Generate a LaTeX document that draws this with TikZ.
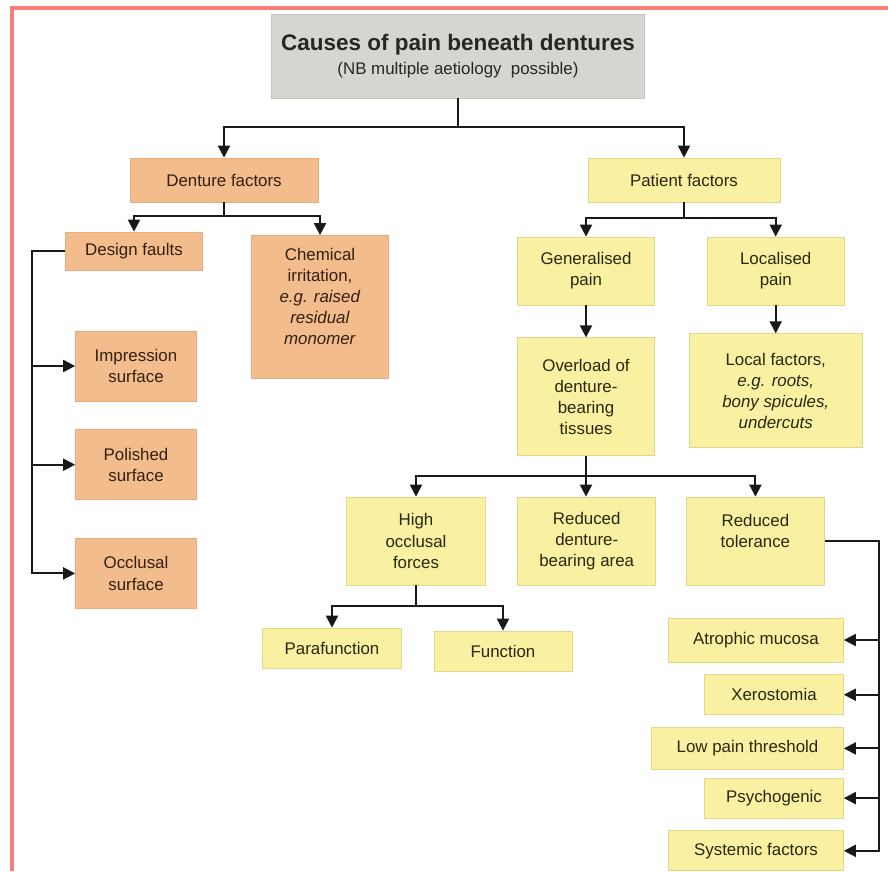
\documentclass[tikz,border=0pt]{standalone}
\usepackage{fontspec}
\setmainfont{Liberation Sans}
\usetikzlibrary{positioning, arrows.meta}
\usepackage{xcolor}
\definecolor{myorange}{RGB}{242,188,141}
\definecolor{myorangeline}{RGB}{230,174,126}
\definecolor{myyellow}{RGB}{250,240,162}
\definecolor{myyellowline}{RGB}{226,216,140}
\definecolor{mygrey}{RGB}{214,214,208}
\definecolor{mygreyline}{RGB}{198,198,192}
\definecolor{myred}{RGB}{243,128,122}
\definecolor{mybrown}{RGB}{52,32,16}
\definecolor{myolive}{RGB}{40,40,14}

\begin{document}
\begin{tikzpicture}[x=0.025cm, y=-0.025cm, >={Triangle[length=8.5pt,width=8.5pt]},
  box/.style={rectangle, line width=0.5pt, align=center, inner sep=2pt,
              font=\fontsize{12}{15}\selectfont},
  size/.style 2 args={minimum width=#1*0.025cm, minimum height=#2*0.025cm},
  denture/.style={box, fill=myorange, draw=myorangeline, text=mybrown},
  patient/.style={box, fill=myyellow, draw=myyellowline, text=myolive},
  link/.style={->, line width=1.4pt, draw=black!90}]
  \useasboundingbox (0,0) rectangle (888,871);
  \draw[myred, line width=2.2pt] (12,871) -- (12,8) -- (888,8);

  \node[box, fill=mygrey, draw=mygreyline, text=black!85, size={373}{84}] (title) at (458,56)
    {{\bfseries\fontsize{16}{19}\selectfont Causes of pain beneath dentures}\\[1.5pt]
     (NB multiple aetiology\ \ possible)};

  % denture side
  \node[denture, size={188}{44}] (dent)   at (224,180) {Denture factors};
  \node[denture, size={137}{38}] (design) at (134,251) {Design faults};
  \node[denture, size={137}{143}] (chem)  at (320,307)
    {Chemical\\irritation,\\\textit{e.g. raised}\\\textit{residual}\\\textit{monomer}\\ \mbox{}};
  \node[denture, size={121}{70}] (impr)   at (136,366) {Impression\\surface};
  \node[denture, size={121}{70}, below=0.7cm of impr] (pol)  {Polished\\surface};
  \node[denture, size={121}{70}, below=0.95cm of pol]  (occl) {Occlusal\\surface};

  % patient side
  \node[patient, size={192}{44}] (pat) at (684,180) {Patient factors};
  \node[patient, size={137}{68}] (gen) at (586,271) {Generalised\\pain};
  \node[patient, size={137}{68}, right=1.3cm of gen] (loc) {Localised\\pain};
  \node[patient, size={137}{118}, below=0.8cm of gen] (over)
    {Overload of\\denture-\\bearing\\tissues};
  \node[patient, size={173}{114}, below=0.7cm of loc] (locf)
    {Local factors,\\\textit{e.g. roots,}\\\textit{bony spicules,}\\\textit{undercuts}};

  \node[patient, size={139}{88}] (high) at (416,541) {High\\occlusal\\forces};
  \node[patient, size={138}{88}, right=0.7875cm of high] (redarea)
    {Reduced\\denture-\\bearing area};
  \node[patient, size={138}{88}, right=0.75cm of redarea] (redtol)
    {Reduced\\tolerance\\ \mbox{}};

  \node[patient, size={139}{40}] (para) at (332,648) {Parafunction};
  \node[patient, size={138}{40}] (func) at (503,651) {Function};

  \node[patient, size={175}{44}] (atro) at (756,640) {Atrophic mucosa};
  \node[patient, size={139}{40}, below=0.3cm of atro.south east, anchor=north east] (xero) {Xerostomia};
  \node[patient, size={192}{42}, below=0.3cm of xero.south east, anchor=north east] (lowp) {Low pain threshold};
  \node[patient, size={139}{40}, below=0.2cm of lowp.south east, anchor=north east] (psych) {Psychogenic};
  \node[patient, size={175}{40}, below=0.3cm of psych.south east, anchor=north east] (syst) {Systemic factors};

  % connectors
  \draw[link] (title.south) -- ++(0,29) -| (dent.north);
  \draw[link] (title.south) -- ++(0,29) -| (pat.north);
  \draw[link] (dent.south) -- ++(0,14) -| (design.north);
  \draw[link] (dent.south) -- ++(0,14) -| (chem.north);
  \draw[link] (design.west) -- ++(-33,0) |- (impr.west);
  \draw[link] (design.west) -- ++(-33,0) |- (pol.west);
  \draw[link] (design.west) -- ++(-33,0) |- (occl.west);

  \draw[link] (pat.south) -- ++(0,16) -| (gen.north);
  \draw[link] (pat.south) -- ++(0,16) -| (loc.north);
  \draw[link] (gen.south) -- (over.north);
  \draw[link] (loc.south) -- (locf.north);
  \draw[link] (over.south) -- ++(0,20) -| (high.north);
  \draw[link] (over.south) -- (over.south |- redarea.north);
  \draw[link] (over.south) -- ++(0,20) -| (redtol.north);
  \draw[link] (high.south) -- ++(0,21) -| (para.north);
  \draw[link] (high.south) -- ++(0,21) -| (func.north);
  \foreach \n in {atro, xero, lowp, psych, syst}
    \draw[link] (redtol.east) -- ++(54,0) |- (\n.east);
\end{tikzpicture}
\end{document}
